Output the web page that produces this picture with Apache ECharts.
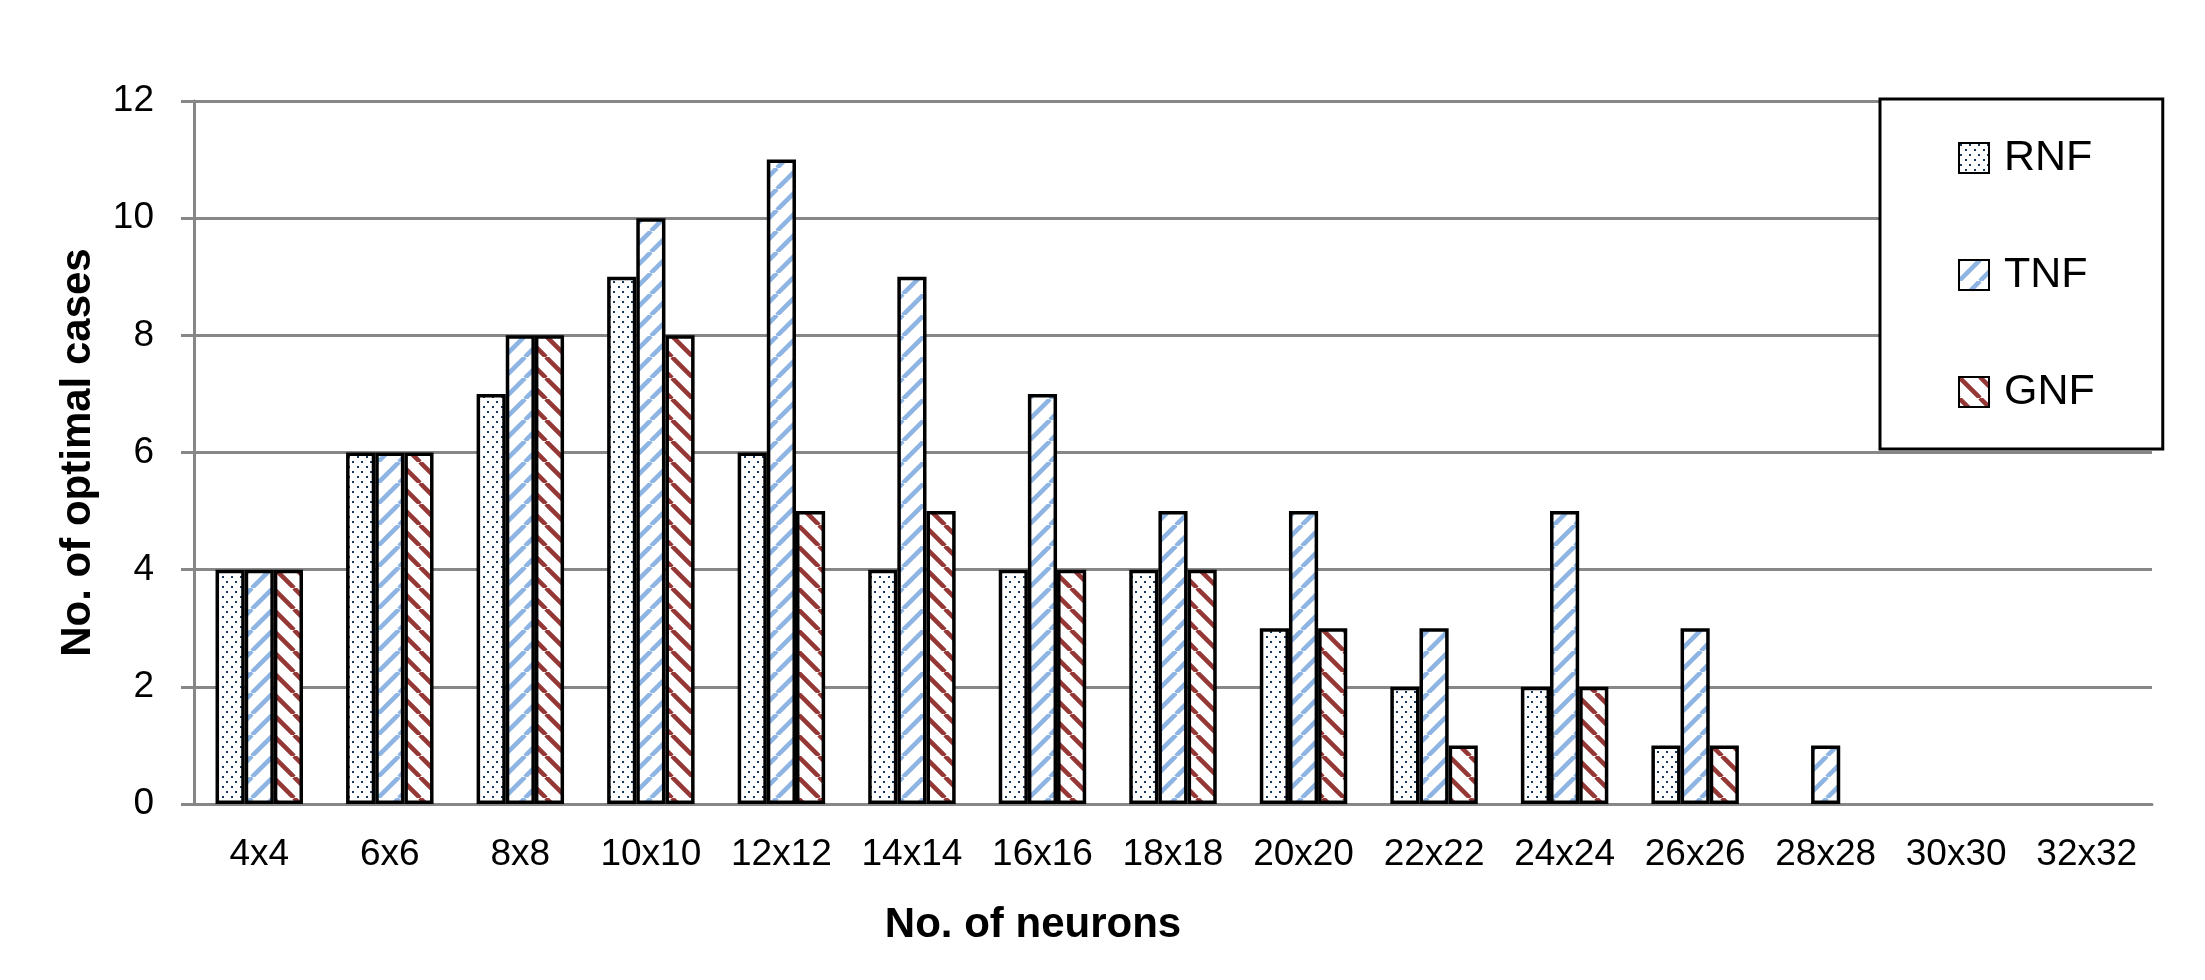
<!DOCTYPE html>
<html>
<head>
<meta charset="utf-8">
<script src="https://cdn.jsdelivr.net/npm/echarts@6/dist/echarts.min.js"></script>
<style>
  html, body { margin: 0; padding: 0; background: #fff; }
  #chart { width: 2205px; height: 980px; }
</style>
</head>
<body>
<div id="chart"></div>
<script>
// values
const categories = ["4x4", "6x6", "8x8", "10x10", "12x12", "14x14", "16x16", "18x18",
  "20x20", "22x22", "24x24", "26x26", "28x28", "30x30", "32x32"];
const rnf = [4, 6, 7, 9, 6, 4, 4, 4, 3, 2, 2, 1, 0, 0, 0];
const tnf = [4, 6, 8, 10, 11, 9, 7, 5, 5, 3, 5, 3, 1, 0, 0];
const gnf = [4, 6, 8, 8, 5, 5, 4, 4, 3, 1, 2, 1, 0, 0, 0];
const yTicks = { min: 0, max: 12, interval: 2 };

const FONT = "'Liberation Sans', Arial, sans-serif";
const GRID_GRAY = "#878787";

// small canvas tiles used as fill patterns
function makeTile(w, h, draw) {
  const c = document.createElement("canvas");
  c.width = w;
  c.height = h;
  const ctx = c.getContext("2d");
  ctx.fillStyle = "#fff";
  ctx.fillRect(0, 0, w, h);
  draw(ctx, w, h);
  return c;
}

const dotTile = makeTile(9, 10, (ctx) => {
  ctx.fillStyle = "#17375e";
  ctx.fillRect(1, 1, 2, 2);
  ctx.fillRect(6, 6, 2, 2);
});

function stripeTile(color, up) {
  return makeTile(21, 21, (ctx, s) => {
    ctx.strokeStyle = color;
    ctx.lineWidth = 4.5;
    ctx.beginPath();
    [-s, 0, s].forEach((k) => {
      if (up) {
        ctx.moveTo(k, s);
        ctx.lineTo(k + s, 0);
      } else {
        ctx.moveTo(k, 0);
        ctx.lineTo(k + s, s);
      }
    });
    ctx.stroke();
  });
}

const patterns = {
  RNF: { image: dotTile, repeat: "repeat" },
  TNF: { image: stripeTile("#8db4e2", true), repeat: "repeat" },
  GNF: { image: stripeTile("#953735", false), repeat: "repeat" },
};

const myChart = echarts.init(document.getElementById("chart"), null, { renderer: "canvas" });

function barSeries(name, values) {
  return {
    name: name,
    type: "bar",
    // zero counts have no bar in the original
    data: values.map((v) => (v === 0 ? "-" : v)),
    barGap: "0%",
    barCategoryGap: "33%",
    itemStyle: {
      color: patterns[name],
      borderColor: "#000",
      borderWidth: 3.5,
    },
  };
}

const option = {
  backgroundColor: "#fff",
  animation: false,
  grid: {
    left: 194,
    right: 53,
    top: 101,
    bottom: 176,
  },
  legend: {
    orient: "vertical",
    left: 1880,
    top: 99,
    padding: [37, 68, 35, 78],
    borderColor: "#000",
    borderWidth: 3,
    backgroundColor: "#fff",
    itemWidth: 30,
    itemHeight: 30,
    itemGap: 73,
    icon: "rect",
    textStyle: {
      fontFamily: FONT,
      fontSize: 43,
      lineHeight: 44,
      color: "#000",
      padding: [0, 0, 0, 10],
    },
    data: ["RNF", "TNF", "GNF"],
  },
  xAxis: {
    type: "category",
    data: categories,
    name: "No. of neurons",
    nameLocation: "middle",
    nameGap: 100,
    nameTextStyle: {
      fontFamily: FONT,
      fontWeight: "bold",
      fontSize: 42,
      color: "#000",
      padding: [0, 280, 0, 0],
    },
    axisLine: { lineStyle: { color: GRID_GRAY, width: 3 } },
    axisTick: { length: 15, lineStyle: { color: GRID_GRAY, width: 3 } },
    axisLabel: {
      fontFamily: FONT,
      fontSize: 37,
      color: "#000",
      margin: 32,
      interval: 0,
    },
  },
  yAxis: {
    type: "value",
    min: yTicks.min,
    max: yTicks.max,
    interval: yTicks.interval,
    name: "No. of optimal cases",
    nameLocation: "middle",
    nameGap: 95,
    nameTextStyle: {
      fontFamily: FONT,
      fontWeight: "bold",
      fontSize: 42,
      color: "#000",
    },
    axisLine: { show: true, lineStyle: { color: GRID_GRAY, width: 3 } },
    axisTick: { show: true, length: 13, lineStyle: { color: GRID_GRAY, width: 3 } },
    splitLine: { lineStyle: { color: GRID_GRAY, width: 3 } },
    axisLabel: {
      fontFamily: FONT,
      fontSize: 37,
      color: "#000",
      margin: 40,
    },
  },
  series: [
    barSeries("RNF", rnf),
    barSeries("TNF", tnf),
    barSeries("GNF", gnf),
  ],
};

myChart.setOption(option);
</script>
</body>
</html>
